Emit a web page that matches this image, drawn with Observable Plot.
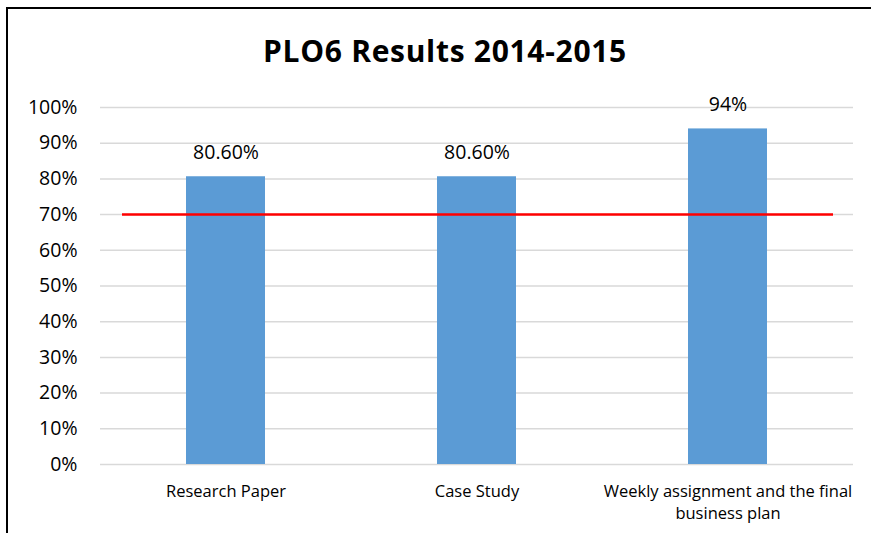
<!DOCTYPE html>
<html>
<head>
<meta charset="utf-8">
<script src="https://cdn.jsdelivr.net/npm/d3@7"></script>
<script src="https://cdn.jsdelivr.net/npm/@observablehq/plot@0.6"></script>
<style>
  body { margin: 0; background: #fff; }
  #wrap { position: relative; width: 871px; height: 533px; overflow: hidden; background: #fff; font-family: "Open Sans", sans-serif; }
  #frame { position: absolute; left: 6px; top: 7px; width: 870px; height: 560px; border: 2px solid #000; box-sizing: border-box; }
  #title { position: absolute; left: 0; width: 890px; top: 28px; text-align: center; font-size: 30px; letter-spacing: 0.7px; font-weight: bold; color: #000; font-family: "Open Sans", sans-serif; line-height: 46px; }
  #chart { position: absolute; left: 0; top: 0; }
</style>
</head>
<body>
<div id="wrap">
  <div id="frame"></div>
  <div id="chart"></div>
  <div id="title">PLO6 Results 2014-2015</div>
</div>
<script>
const title = "PLO6 Results 2014-2015";
const categories = ["Research Paper", "Case Study", "Weekly assignment and the final business plan"];
const values = [80.6, 80.6, 94];
const valueLabels = ["80.60%", "80.60%", "94%"];
const target = 70;
const yTicks = [0, 10, 20, 30, 40, 50, 60, 70, 80, 90, 100];

const data = categories.map((c, i) => ({category: c, value: values[i], label: valueLabels[i]}));

const chart = Plot.plot({
  width: 871,
  height: 533,
  marginTop: 107,
  marginBottom: 69,
  marginLeft: 100,
  marginRight: 18,
  style: {fontFamily: "Open Sans, sans-serif", background: "transparent"},
  x: {domain: categories, paddingInner: 0.685, paddingOuter: 0.3425, label: null},
  y: {domain: [0, 100], label: null},
  marks: [
    Plot.gridY(yTicks, {stroke: "#d9d9d9", strokeOpacity: 1, strokeWidth: 1.5}),
    Plot.axisY(yTicks, {tickSize: 0, tickPadding: 23, tickFormat: d => d + "%", fontSize: 19.5, fill: "#000", label: null}),
    Plot.axisX({tickSize: 0, tickPadding: 17, fontSize: 16.5, fill: "#000", lineWidth: 16, lineHeight: 1.33, label: null}),
    Plot.barY(data, {x: "category", y: "value", fill: "#5b9bd5"}),
    Plot.ruleY([target], {stroke: "#ff0000", strokeWidth: 2.5, insetLeft: 22, insetRight: 20}),
    Plot.text(data, {x: "category", y: "value", text: "label", dy: -24, fontSize: 19.5, fill: "#000", textAnchor: "middle", lineAnchor: "middle"})
  ]
});
document.getElementById("chart").appendChild(chart);
</script>
</body>
</html>
